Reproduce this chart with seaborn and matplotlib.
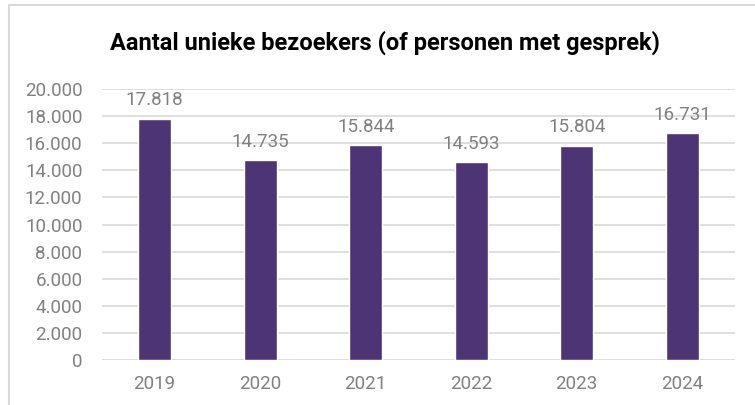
import pandas as pd
import matplotlib.pyplot as plt
import seaborn as sns
from matplotlib.lines import Line2D

# data
years = ['2019', '2020', '2021', '2022', '2023', '2024']
visitors = [17818, 14735, 15844, 14593, 15804, 16731]

df = pd.DataFrame({'jaar': years, 'bezoekers': visitors})

sns.set_theme(style="white")
plt.rcParams['font.family'] = ['Roboto', 'DejaVu Sans']

fig = plt.figure(figsize=(7.55, 4.05), dpi=100)
ax = fig.add_axes([0.135, 0.111, 0.8385, 0.669])

sns.barplot(data=df, x='jaar', y='bezoekers', color='#4d3575', width=0.31,
            saturation=1, ax=ax, zorder=3)

ax.set_ylim(0, 20000)
ax.set_yticks(range(0, 20001, 2000))
ax.set_yticklabels([f'{v:,}'.replace(',', '.') for v in range(0, 20001, 2000)])
ax.yaxis.grid(True, color='#d9d9d9', linewidth=1.2, zorder=0)
ax.set_axisbelow(True)
for s in ax.spines.values():
    s.set_visible(False)
ax.set_xlabel('')
ax.set_ylabel('')
ax.tick_params(axis='both', colors='#808080', labelsize=13.5, length=0)
ax.tick_params(axis='y', pad=14)
ax.tick_params(axis='x', pad=11)

# value labels
for i, v in enumerate(visitors):
    ax.annotate(f'{v:,}'.replace(',', '.'), (i, v), xytext=(0, 7),
                textcoords='offset points', ha='center', va='bottom',
                color='#808080', fontsize=13.5)

fig.suptitle('Aantal unieke bezoekers (of personen met gesprek)',
             x=0.51, y=0.925, fontsize=17, fontweight='bold', color='#000000')

# outer chart border (partly cropped)
fig.add_artist(Line2D([9/755, 9/755], [0, 1 - 5/405], transform=fig.transFigure,
                      color='#d9d9d9', linewidth=1.5))
fig.add_artist(Line2D([9/755, 1], [1 - 5/405, 1 - 5/405], transform=fig.transFigure,
                      color='#d9d9d9', linewidth=1.5))

fig.savefig('out.png', dpi=100)
